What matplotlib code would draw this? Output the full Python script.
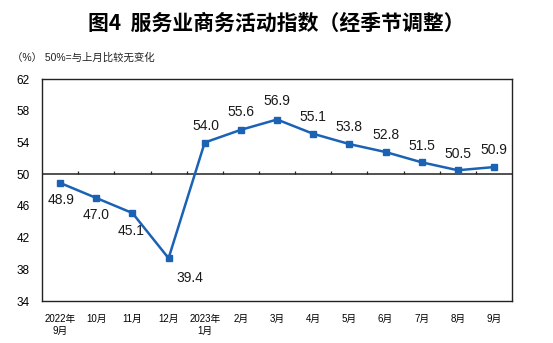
import matplotlib
matplotlib.use('Agg')
import matplotlib.pyplot as plt
import numpy as np

months = ['2022年\n9月', '10月', '11月', '12月', '2023年\n1月', '2月', '3月',
          '4月', '5月', '6月', '7月', '8月', '9月']
pmi = [48.9, 47.0, 45.1, 39.4, 54.0, 55.6, 56.9, 55.1, 53.8, 52.8, 51.5, 50.5, 50.9]
# label offsets in points (dx, dy)
label_offsets = [(1, -12), (0, -12), (-1, -13), (15, -14), (1, 12), (0, 13), (0, 13),
                 (0, 12), (0, 12), (0, 12), (0, 12), (0, 12), (0, 12)]

plt.rcParams['font.family'] = ['Liberation Sans', 'Noto Sans CJK SC', 'DejaVu Sans']

blue = '#1B62B5'
fig = plt.figure(figsize=(5.53, 3.43), dpi=100)
ax = fig.add_axes([0.076, 0.1224, 0.850, 0.647])

x = np.arange(len(months))
ax.plot(x, pmi, color=blue, lw=1.8, marker='s', markersize=4.5, zorder=3)

# 50 = no change line, with category ticks on it
ax.axhline(50, color='#222222', lw=1.1, zorder=2)
ax.vlines(np.arange(0.5, len(months) - 1), 50, 50.45, color='#222222', lw=0.9, zorder=2)

for xi, v, (dx, dy) in zip(x, pmi, label_offsets):
    ax.annotate(f'{v:.1f}', (xi, v), xytext=(dx, dy), textcoords='offset points',
                ha='center', va='center', fontsize=10, color='#1a1a1a')

ax.set_xlim(-0.5, len(months) - 0.5)
ax.set_ylim(34, 62)
ax.set_yticks(np.arange(34, 63, 4))
ax.set_xticks(x)
ax.set_xticklabels(months, fontsize=7, linespacing=1.35, va='top')
ax.tick_params(axis='x', length=0, pad=9)
ax.tick_params(axis='y', length=0, pad=9, labelsize=8.5)
for s in ax.spines.values():
    s.set_color('#222222')
    s.set_linewidth(1.0)

fig.text(0.5, 0.933, '图4  服务业商务活动指数（经季节调整）', ha='center', va='center',
         fontsize=15, fontweight='bold', family=['Noto Sans CJK SC', 'DejaVu Sans'])
fig.text(0.022, 0.831, '（%） 50%=与上月比较无变化', ha='left', va='center',
         fontsize=7.5, color='#222222')

fig.savefig('out.png', dpi=100)
